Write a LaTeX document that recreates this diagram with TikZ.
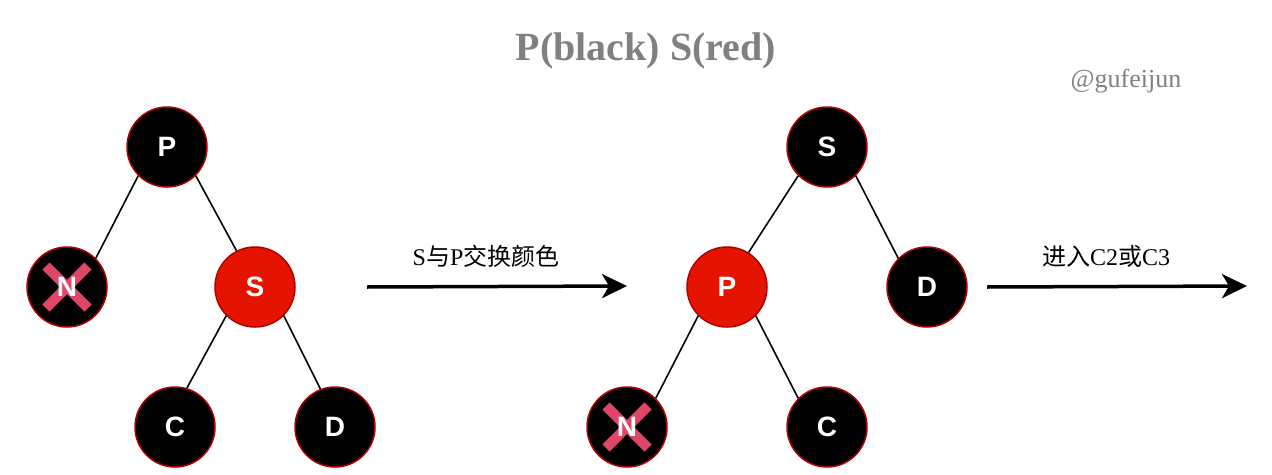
\documentclass[tikz,border=0pt]{standalone}
\usepackage{fontspec}
\setmainfont{Liberation Serif}
\newfontfamily\cjk{Noto Sans CJK SC}
\newfontfamily\nodefont{Liberation Sans}
\usetikzlibrary{arrows.meta}
\definecolor{rbred}{RGB}{229,20,0}
\definecolor{rbedge}{RGB}{178,0,0}
\definecolor{crosspink}{RGB}{224,70,104}
\definecolor{titlegrey}{RGB}{128,128,128}
\begin{document}
\begin{tikzpicture}[x=1pt,y=-1pt,
  rbnode/.style={circle,draw=rbedge,line width=1.5pt,minimum size=80pt,inner sep=0pt,
    text=white,font=\nodefont\fontsize{28}{30}\selectfont\bfseries},
  blacknode/.style={rbnode,fill=black},
  rednode/.style={rbnode,fill=rbred},
  edge/.style={line width=1.6pt},
  bigarrow/.style={line width=3.5pt,-{Stealth[length=25pt,width=24pt,inset=7pt]}},
  steplabel/.style={font=\fontsize{24}{26}\selectfont}]
\useasboundingbox (0,0) rectangle (1272,474);
\node[font=\fontsize{40}{44}\selectfont\bfseries,text=titlegrey] (title) at (646,51) {P(black) S(red)};
\node[font=\fontsize{26}{28}\selectfont,text=titlegrey] (sign) at (1126,81) {@gufeijun};
% before: P black, S red
\node[blacknode] (P1) at (167,147) {P};
\node[blacknode] (N1) at (67,287) {};
\node[rednode]   (S1) at (255,287) {S};
\node[blacknode] (C1) at (175,427) {C};
\node[blacknode] (D1) at (335,427) {D};
% after: rotate at P, swap colours
\node[blacknode] (S2) at (827,147) {S};
\node[rednode]   (P2) at (727,287) {P};
\node[blacknode] (D2) at (927,287) {D};
\node[blacknode] (N2) at (627,427) {};
\node[blacknode] (C2) at (827,427) {C};
\draw[edge] (P1.south west) -- (N1.north east);
\draw[edge] (P1.south east) -- (S1.117);
\draw[edge] (S1.south west) -- (C1.73);
\draw[edge] (S1.south east) -- (D1.111);
\draw[edge] (S2.south west) -- (P2.58);
\draw[edge] (S2.south east) -- (D2.north west);
\draw[edge] (P2.south west) -- (N2.north east);
\draw[edge] (P2.south east) -- (C2.north west);
% crossed out N
\foreach \n in {N1, N2} {
  \draw[crosspink,line width=10pt] ([shift={(-21,-21)}]\n.center) -- ([shift={(21,21)}]\n.center);
  \draw[crosspink,line width=10pt] ([shift={(21,-21)}]\n.center) -- ([shift={(-21,21)}]\n.center);
  \node[text=white,font=\nodefont\fontsize{28}{30}\selectfont\bfseries] at (\n) {N};
}
\coordinate (a1s) at (367,287);
\coordinate (a1e) at (627,286);
\coordinate (a2s) at (987,287);
\coordinate (a2e) at (1247,286);
\draw[bigarrow] (a1s) -- (a1e);
\draw[bigarrow] (a2s) -- (a2e);
\node[steplabel] (l1) at (486,256) {S{\cjk 与}P{\cjk 交换颜色}};
\node[steplabel] (l2) at (1106,256) {{\cjk 进入}C2{\cjk 或}C3};
\end{tikzpicture}
\end{document}
